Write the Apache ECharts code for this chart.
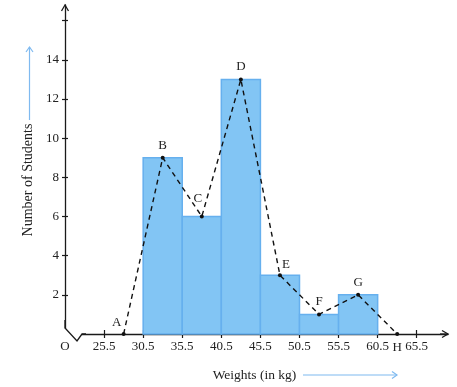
<!DOCTYPE html>
<html><head><meta charset="utf-8">
<script src="https://cdn.jsdelivr.net/npm/echarts@6/dist/echarts.min.js"></script>
<style>html,body{margin:0;padding:0;background:#fff}#c{width:457px;height:387px}</style>
</head><body><div id="c"></div>
<script>
// Data
const classLower = [30.5, 35.5, 40.5, 45.5, 50.5, 55.5];
const classUpper = [35.5, 40.5, 45.5, 50.5, 55.5, 60.5];
const frequencies = [9, 6, 13, 3, 1, 2];
const polyX = [28, 33, 38, 43, 48, 53, 58, 63];
const polyY = [0, 9, 6, 13, 3, 1, 2, 0];
const polyNames = ['A', 'B', 'C', 'D', 'E', 'F', 'G', 'H'];
const xTicks = [25.5, 30.5, 35.5, 40.5, 45.5, 50.5, 55.5, 60.5, 65.5];
const xLabels = [20.5, 25.5, 30.5, 35.5, 40.5, 45.5, 50.5, 55.5, 60.5, 65.5];
const yTicks = [2, 4, 6, 8, 10, 12, 14, 16];
const yLabels = [2, 4, 6, 8, 10, 12, 14];

const FONT = 'Liberation Serif';
const TXT = '#222';
const AX = '#1a1a1a';
const BLUE = '#7fbaf0';

const labelCfg = {
  A: {position: 'top', distance: 4, offset: [-7, 1]},
  B: {position: 'top', distance: 4},
  C: {position: 'top', distance: 4, offset: [-4, -5]},
  D: {position: 'top', distance: 4},
  E: {position: 'top', distance: 4, offset: [6, 2]},
  F: {position: 'top', distance: 4},
  G: {position: 'top', distance: 4},
  H: {position: 'bottom', distance: 5}
};

const chart = echarts.init(document.getElementById('c'), null, {renderer: 'canvas'});
const xCommon = {type: 'value', min: 20.5, max: 69.5, splitLine: {show: false}};
const yCommon = {type: 'value', min: 0, max: 16.8, splitLine: {show: false}};

chart.setOption({
  animation: false,
  grid: {left: 65, right: 9, top: 5, bottom: 53, containLabel: false},
  xAxis: [
    Object.assign({}, xCommon, {
      position: 'bottom',
      axisLine: {show: true, lineStyle: {color: AX, width: 1.3}},
      axisTick: {show: true, customValues: xTicks, length: 4, lineStyle: {color: AX, width: 1.2}},
      axisLabel: {show: true, customValues: xLabels, margin: 6, fontFamily: FONT, fontSize: 13, color: TXT,
        formatter: v => (Math.abs(v - 20.5) < 1e-6 ? 'O' : v.toFixed(1))},
      name: 'Weights (in kg)', nameLocation: 'middle', nameGap: 34,
      nameTextStyle: {fontFamily: FONT, fontSize: 13.5, color: TXT, padding: [0, 0, 0, -4]}
    }),
    Object.assign({}, xCommon, {
      position: 'bottom',
      axisLine: {show: false},
      axisTick: {show: true, inside: true, customValues: xTicks, length: 4, lineStyle: {color: AX, width: 1.2}},
      axisLabel: {show: false}
    })
  ],
  yAxis: [
    Object.assign({}, yCommon, {
      position: 'left',
      axisLine: {show: true, lineStyle: {color: AX, width: 1.3}},
      axisTick: {show: true, customValues: yTicks, length: 3, lineStyle: {color: AX, width: 1.2}},
      axisLabel: {show: true, customValues: yLabels, margin: 6, fontFamily: FONT, fontSize: 13, color: TXT},
      name: 'Number of Students', nameLocation: 'middle', nameGap: 29, nameRotate: 90,
      nameTextStyle: {fontFamily: FONT, fontSize: 14, color: TXT, padding: [0, 21, 0, 0]}
    }),
    Object.assign({}, yCommon, {
      position: 'left',
      axisLine: {show: false},
      axisTick: {show: true, inside: true, customValues: yTicks, length: 3, lineStyle: {color: AX, width: 1.2}},
      axisLabel: {show: false}
    })
  ],
  series: [
    {
      type: 'custom',
      xAxisIndex: 0, yAxisIndex: 0,
      data: classLower.map((l, i) => [l, classUpper[i], frequencies[i]]),
      renderItem: function (params, api) {
        const p0 = api.coord([api.value(0), api.value(2)]);
        const p1 = api.coord([api.value(1), 0]);
        return {
          type: 'rect',
          shape: {x: p0[0], y: p0[1], width: p1[0] - p0[0], height: p1[1] - p0[1]},
          style: {fill: '#82c5f4', stroke: '#66b0ee', lineWidth: 1.5}
        };
      },
      z: 2
    },
    {
      type: 'line',
      xAxisIndex: 0, yAxisIndex: 0,
      data: polyX.map((x, i) => ({
        value: [x, polyY[i]],
        label: Object.assign({show: true, formatter: polyNames[i]}, labelCfg[polyNames[i]])
      })),
      symbol: 'circle', symbolSize: 4,
      itemStyle: {color: '#111'},
      lineStyle: {color: '#111', width: 1.4, type: [5, 4]},
      label: {fontFamily: FONT, fontSize: 13, color: TXT},
      z: 5
    }
  ],
  graphic: [
    // axis break zigzag
    {type: 'rect', shape: {x: 61, y: 328.5, width: 21, height: 8}, style: {fill: '#fff'}, z: 100},
    {type: 'polyline', shape: {points: [[65, 320], [65, 328], [77, 341], [82, 334], [86, 334]]},
      style: {stroke: AX, lineWidth: 1.3, fill: null}, z: 101},
    // y-axis arrow head
    {type: 'polyline', shape: {points: [[61.5, 11], [65, 5], [68.5, 11]]}, style: {stroke: AX, lineWidth: 1.3, fill: null}, z: 101},
    // x-axis arrow head
    {type: 'polyline', shape: {points: [[442, 330.5], [448, 334], [442, 337.5]]}, style: {stroke: AX, lineWidth: 1.3, fill: null}, z: 101},
    {type: 'line', shape: {x1: 440, y1: 334, x2: 448, y2: 334}, style: {stroke: AX, lineWidth: 1.3}, z: 101},
    // blue arrow next to y name
    {type: 'line', shape: {x1: 29.5, y1: 120, x2: 29.5, y2: 47}, style: {stroke: BLUE, lineWidth: 1.2}, z: 101},
    {type: 'polyline', shape: {points: [[26, 52], [29.5, 47], [33, 52]]}, style: {stroke: BLUE, lineWidth: 1.2, fill: null}, z: 101},
    // blue arrow next to x name
    {type: 'line', shape: {x1: 303, y1: 375, x2: 397, y2: 375}, style: {stroke: BLUE, lineWidth: 1.2}, z: 101},
    {type: 'polyline', shape: {points: [[392, 371.5], [397, 375], [392, 378.5]]}, style: {stroke: BLUE, lineWidth: 1.2, fill: null}, z: 101}
  ]
});
</script>
</body></html>
